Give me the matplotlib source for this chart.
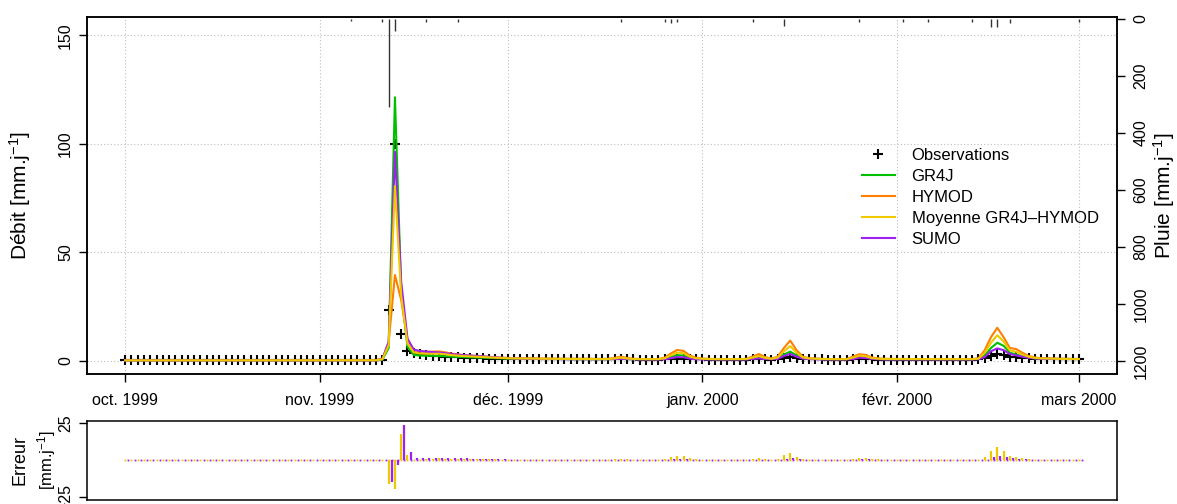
import numpy as np
import matplotlib
matplotlib.use('Agg')
import matplotlib.pyplot as plt
import matplotlib.dates as mdates
import pandas as pd

plt.rcParams['font.family'] = ['Liberation Sans', 'DejaVu Sans']
plt.rcParams['mathtext.fontset'] = 'custom'
plt.rcParams['mathtext.rm'] = 'Liberation Sans'
plt.rcParams['mathtext.it'] = 'Liberation Sans:italic'

# jours du 1er oct. 1999 au 1er mars 2000
dates = pd.date_range('1999-10-01', '2000-03-01', freq='D')

# débits observés [mm/j]
obs = [0.3, 0.3, 0.3, 0.3, 0.3, 0.3, 0.3, 0.3, 0.3, 0.3,
       0.3, 0.3, 0.3, 0.3, 0.3, 0.3, 0.3, 0.4, 0.3, 0.3,
       0.3, 0.3, 0.3, 0.3, 0.3, 0.3, 0.3, 0.3, 0.3, 0.3,
       0.3, 0.3, 0.3, 0.3, 0.3, 0.3, 0.3, 0.3, 0.3, 0.3,
       0.3, 0.5, 23.5, 100.0, 12.4, 4.7, 3.8, 3.2, 2.8, 2.5,
       2.2, 2.0, 1.8, 1.7, 1.5, 1.4, 1.3, 1.2, 1.1, 1.0,
       1.0, 0.9, 0.9, 0.9, 0.9, 0.8, 0.8, 0.8, 0.8, 0.8,
       0.8, 0.7, 0.7, 0.7, 0.7, 0.7, 0.7, 0.7, 0.7, 0.8,
       0.7, 0.7, 0.6, 0.6, 0.6, 0.6, 0.7, 0.8, 1.0, 0.9,
       0.8, 0.7, 0.7, 0.6, 0.6, 0.6, 0.6, 0.6, 0.6, 0.6,
       0.7, 0.8, 0.7, 0.6, 0.7, 1.2, 2.0, 1.5, 1.0, 0.8,
       0.7, 0.7, 0.6, 0.6, 0.6, 0.6, 0.7, 0.9, 0.8, 0.7,
       0.6, 0.6, 0.6, 0.6, 0.6, 0.6, 0.6, 0.6, 0.6, 0.6,
       0.6, 0.6, 0.6, 0.6, 0.6, 0.6, 0.8, 1.4, 2.5, 3.0,
       2.6, 2.0, 1.8, 1.5, 1.3, 1.1, 1.0, 1.0, 1.0, 1.0,
       1.0, 1.0, 1.0]

gr4j = [0.3, 0.3, 0.3, 0.3, 0.3, 0.3, 0.3, 0.3, 0.3, 0.3,
        0.3, 0.3, 0.3, 0.3, 0.3, 0.3, 0.3, 0.4, 0.3, 0.3,
        0.3, 0.3, 0.3, 0.3, 0.3, 0.3, 0.3, 0.3, 0.3, 0.3,
        0.3, 0.3, 0.3, 0.3, 0.3, 0.3, 0.3, 0.3, 0.3, 0.3,
        0.3, 0.6, 6.0, 121.5, 32.0, 6.5, 2.8, 2.5, 2.4, 2.4,
        2.3, 2.2, 2.0, 1.9, 1.8, 1.7, 1.6, 1.5, 1.4, 1.3,
        1.2, 1.1, 1.1, 1.0, 1.0, 1.0, 0.9, 0.9, 0.9, 0.9,
        0.9, 0.8, 0.8, 0.8, 0.8, 0.8, 0.8, 0.8, 0.9, 1.1,
        0.9, 0.8, 0.8, 0.8, 0.8, 0.8, 1.0, 1.8, 2.7, 2.5,
        1.5, 1.0, 0.9, 0.8, 0.8, 0.8, 0.8, 0.8, 0.8, 0.8,
        1.1, 1.4, 1.0, 0.9, 1.2, 3.0, 4.3, 2.6, 1.3, 1.0,
        0.9, 0.8, 0.8, 0.8, 0.8, 0.8, 1.1, 1.8, 1.6, 1.1,
        0.9, 0.8, 0.8, 0.8, 0.8, 0.8, 0.8, 0.8, 0.8, 0.8,
        0.8, 0.8, 0.8, 0.8, 0.8, 0.8, 0.9, 2.5, 6.0, 8.4,
        7.0, 3.8, 3.0, 2.2, 1.6, 1.2, 1.1, 1.0, 1.0, 0.9,
        0.9, 0.9, 0.9]

hymod = [0.3, 0.3, 0.3, 0.3, 0.3, 0.3, 0.3, 0.3, 0.3, 0.3,
         0.3, 0.3, 0.3, 0.3, 0.3, 0.3, 0.3, 0.3, 0.3, 0.3,
         0.3, 0.3, 0.3, 0.3, 0.3, 0.3, 0.3, 0.3, 0.3, 0.3,
         0.3, 0.3, 0.3, 0.3, 0.3, 0.3, 0.3, 0.3, 0.3, 0.3,
         0.4, 1.0, 8.6, 39.6, 28.0, 9.7, 5.0, 4.4, 4.2, 4.3,
         4.4, 4.0, 3.4, 3.0, 2.7, 2.5, 2.3, 2.1, 1.9, 1.7,
         1.5, 1.4, 1.3, 1.3, 1.2, 1.2, 1.1, 1.1, 1.1, 1.0,
         1.0, 1.0, 1.0, 1.0, 1.0, 0.9, 0.9, 1.0, 1.4, 2.0,
         1.4, 1.0, 0.9, 0.9, 0.9, 0.9, 1.5, 3.5, 5.1, 4.6,
         2.5, 1.5, 1.1, 1.0, 0.9, 0.9, 0.9, 0.9, 0.9, 1.0,
         2.0, 3.2, 1.8, 1.1, 2.0, 6.0, 9.4, 5.0, 2.0, 1.3,
         1.1, 1.0, 0.9, 0.9, 0.9, 0.9, 2.0, 3.1, 2.8, 1.6,
         1.2, 1.0, 1.0, 0.9, 1.0, 0.9, 0.9, 0.9, 0.9, 0.9,
         0.9, 0.9, 0.9, 0.9, 0.9, 0.9, 1.2, 5.0, 11.0, 15.3,
         11.0, 6.0, 5.5, 3.8, 2.3, 1.6, 1.3, 1.2, 1.1, 1.0,
         1.0, 0.9, 0.9]

sumo = [0.3, 0.3, 0.3, 0.3, 0.3, 0.3, 0.3, 0.3, 0.3, 0.3,
        0.3, 0.3, 0.3, 0.3, 0.3, 0.3, 0.3, 0.3, 0.3, 0.3,
        0.3, 0.3, 0.3, 0.3, 0.3, 0.3, 0.3, 0.3, 0.3, 0.3,
        0.3, 0.3, 0.3, 0.3, 0.3, 0.3, 0.3, 0.3, 0.3, 0.3,
        0.3, 0.9, 8.9, 96.4, 36.4, 10.3, 5.2, 4.6, 4.3, 4.1,
        3.9, 3.6, 3.2, 2.9, 2.7, 2.5, 2.3, 2.1, 1.9, 1.7,
        1.5, 1.3, 1.2, 1.1, 1.0, 1.0, 0.9, 0.9, 0.9, 0.9,
        0.8, 0.8, 0.8, 0.8, 0.8, 0.8, 0.8, 0.8, 0.9, 1.0,
        0.9, 0.8, 0.7, 0.7, 0.7, 0.7, 0.8, 1.3, 1.8, 1.7,
        1.1, 0.8, 0.7, 0.7, 0.7, 0.7, 0.7, 0.7, 0.7, 0.7,
        1.0, 1.2, 0.9, 0.8, 1.0, 2.3, 3.2, 2.0, 1.1, 0.9,
        0.8, 0.7, 0.7, 0.7, 0.7, 0.7, 0.9, 1.5, 1.4, 1.0,
        0.8, 0.7, 0.7, 0.7, 0.7, 0.7, 0.7, 0.7, 0.7, 0.7,
        0.7, 0.7, 0.7, 0.7, 0.7, 0.7, 0.8, 1.8, 4.5, 5.8,
        5.0, 3.2, 2.6, 2.0, 1.5, 1.2, 1.0, 1.0, 0.9, 0.9,
        0.9, 0.9, 0.9]

# pluie [mm/j] : jours (indice depuis le 1er oct.) et cumuls non nuls
pluie_jours = [36, 41, 42, 43, 48, 53, 79, 86, 87, 88, 100, 105, 117,
               124, 128, 135, 138, 139, 141, 152]
pluie_mm = [8, 10, 308, 41, 12, 9, 10, 12, 14, 10, 11, 23, 11,
            10, 9, 10, 28, 28, 13, 11]

mois = ['1999-10-01', '1999-11-01', '1999-12-01', '2000-01-01',
        '2000-02-01', '2000-03-01']
mois_labels = ['oct. 1999', 'nov. 1999', 'déc. 1999', 'janv. 2000',
               'févr. 2000', 'mars 2000']

obs = np.array(obs)
gr4j = np.array(gr4j)
hymod = np.array(hymod)
sumo = np.array(sumo)
moyenne = (gr4j + hymod) / 2  # moyenne des deux modèles

c_gr4j = '#00C000'
c_hymod = '#FF7F00'
c_moy = '#EEC900'
c_sumo = '#A020F0'

x = mdates.date2num(dates.to_pydatetime())
xp = mdates.date2num(pd.to_datetime(dates[0]) + pd.to_timedelta(pluie_jours, unit='D'))
xm = mdates.date2num(pd.to_datetime(mois).to_pydatetime())
marge = 0.04 * (x[-1] - x[0])
xlim = (x[0] - marge, x[-1] + marge)

fig = plt.figure(figsize=(11.77, 5.04), dpi=100)
ax = fig.add_axes([87 / 1177, 1 - 374 / 504, 1030 / 1177, 357 / 504])
ax2 = ax.twinx()
axe = fig.add_axes([87 / 1177, 4 / 504, 1030 / 1177, 79 / 504])

# grille
for v in xm:
    ax.axvline(v, color='#BEBEBE', lw=0.8, ls=(0, (1, 2)), zorder=0)
for v in [0, 50, 100, 150]:
    ax.axhline(v, color='#BEBEBE', lw=0.8, ls=(0, (1, 2)), zorder=0)

ax.plot(x, obs, ls='none', marker='+', ms=7.5, mew=1.5, color='black',
        label='Observations', zorder=3)
ax.plot(x, gr4j, color=c_gr4j, lw=1.5, label='GR4J', zorder=4)
ax.plot(x, hymod, color=c_hymod, lw=1.5, label='HYMOD', zorder=4)
ax.plot(x, sumo, color=c_sumo, lw=1.5, label='SUMO', zorder=5)
ax.plot(x, moyenne, color=c_moy, lw=1.5, label='Moyenne GR4J\u2013HYMOD', zorder=5)

ax.set_xlim(xlim)
ax.set_ylim(-6.0, 158.5)
ax.set_yticks([0, 50, 100, 150])
ax.set_xticks(xm)
ax.set_xticklabels(mois_labels, fontsize=11.5)
ax.tick_params(axis='x', length=6, width=1, pad=8)
ax.tick_params(axis='y', length=6, width=1, pad=4, labelsize=11.5)
for t in ax.get_yticklabels():
    t.set_rotation(90)
    t.set_va('center')
ax.set_ylabel('Débit [mm.j$^{-1}$]', fontsize=15)
ax.yaxis.set_label_coords(-0.052, 0.5)

h, l = ax.get_legend_handles_labels()
ordre = [0, 1, 2, 4, 3]
ax.legend([h[i] for i in ordre], [l[i] for i in ordre], loc='upper left',
          bbox_to_anchor=(0.752, 0.633), frameon=False, fontsize=12,
          handlelength=2.0, handletextpad=1.0, labelspacing=0.36,
          borderpad=0, borderaxespad=0)

# pluie sur l'axe de droite, inversé
ax2.vlines(xp, 0, pluie_mm, color='#333333', lw=1.0)
ax2.set_ylim(1245, -7)
ax2.set_yticks([0, 200, 400, 600, 800, 1000, 1200])
ax2.tick_params(axis='y', length=6, width=1, pad=6, labelsize=11.5)
for t in ax2.get_yticklabels():
    t.set_rotation(90)
    t.set_va('center')
ax2.set_ylabel('Pluie [mm.j$^{-1}$]', fontsize=15)
ax2.yaxis.set_label_coords(1.033, 0.5)

for a in (ax, ax2):
    for s in a.spines.values():
        s.set_linewidth(1.1)

# panneau des erreurs
err_moy = moyenne - obs
err_sumo = sumo - obs
decal = 0.5
axe.vlines(x, 0, err_moy, color=c_moy, lw=1.6)
axe.vlines(x + decal, 0, err_sumo, color=c_sumo, lw=1.6)
axe.plot(x, np.zeros_like(x), ls='none', marker='s', ms=1.3, color=c_moy, mew=0)
axe.plot(x + decal, np.zeros_like(x), ls='none', marker='s', ms=1.3, color=c_sumo, mew=0)
axe.set_xlim(xlim)
axe.set_ylim(-27, 26.5)
axe.set_xticks([])
axe.set_yticks([-25, 25])
axe.tick_params(axis='y', length=6, width=1, pad=4, labelsize=11.5)
for t in axe.get_yticklabels():
    t.set_rotation(90)
    t.set_va('center')
for s in axe.spines.values():
    s.set_linewidth(1.1)
fig.text(20 / 1177, 1 - 460 / 504, 'Erreur', rotation=90, fontsize=13,
         ha='center', va='center')
fig.text(47 / 1177, 1 - 460 / 504, '[mm.j$^{-1}$]', rotation=90, fontsize=12,
         ha='center', va='center')

plt.savefig('out.png', dpi=100)
